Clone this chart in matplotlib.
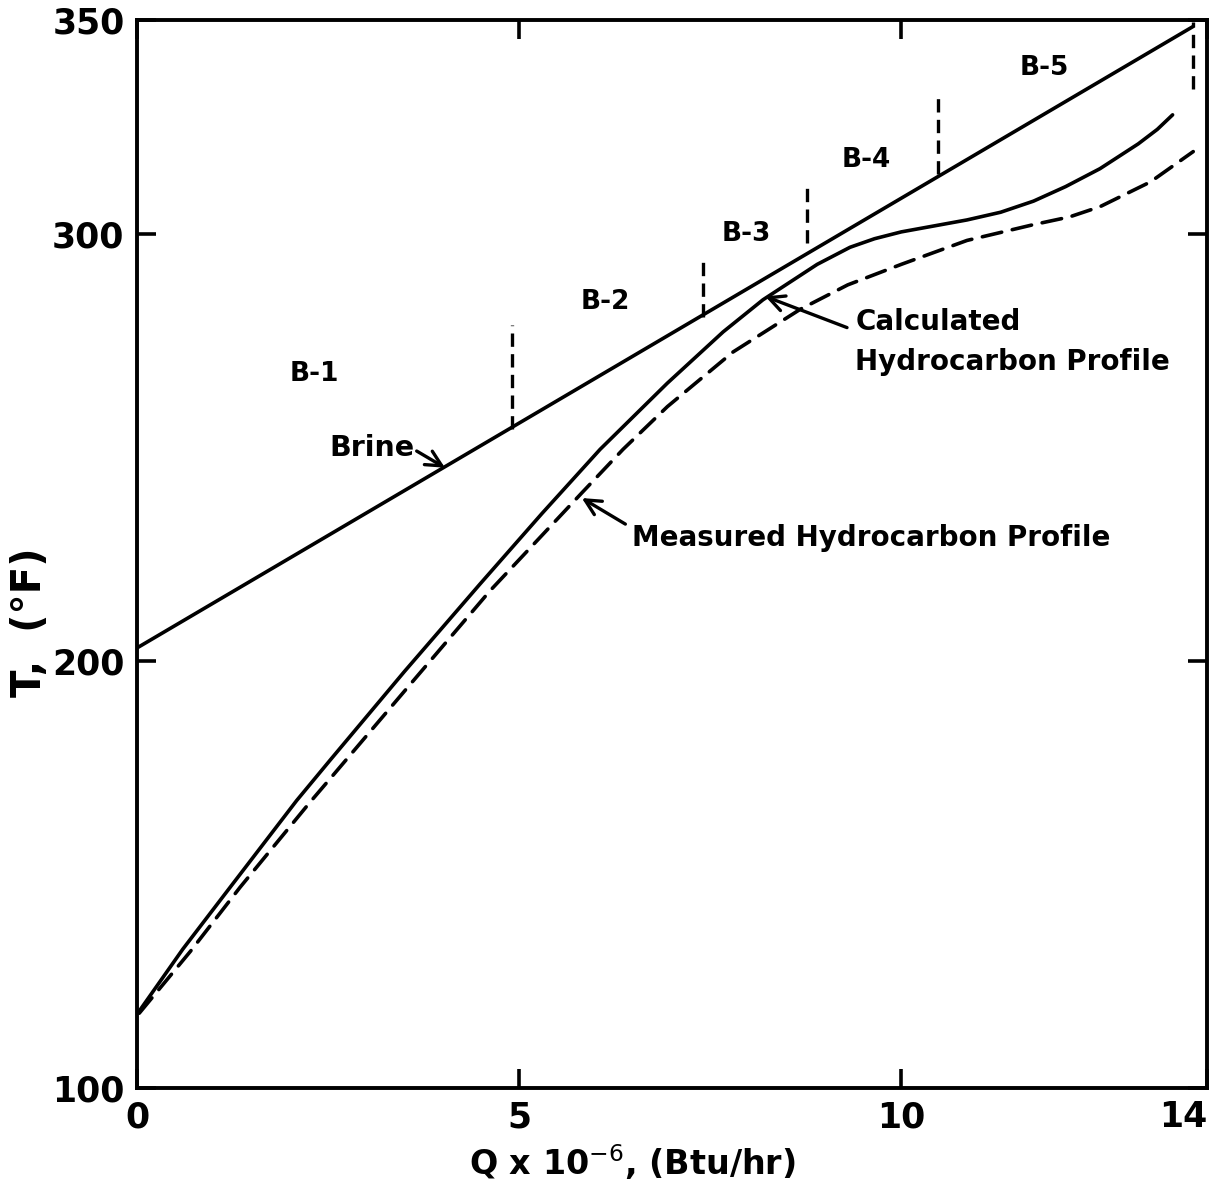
import matplotlib
matplotlib.use("Agg")
import matplotlib.pyplot as plt

# ---- data ----
brine_q = [0.0, 13.82]
brine_t = [203.0, 348.5]

calc_q = [0.03, 0.6, 1.22, 2.09, 2.53, 3.5, 4.49, 5.3, 6.06, 6.94, 7.67, 8.19,
          8.9, 9.33, 9.65, 10.0, 10.86, 11.3, 11.73, 12.15, 12.6, 13.1, 13.35, 13.55]
calc_t = [118.0, 132.5, 147.0, 167.3, 176.8, 197.5, 218.0, 234.5, 249.5, 265.0,
          277.0, 284.5, 292.8, 296.8, 298.8, 300.4, 303.2, 305.0, 307.6, 311.0,
          315.2, 321.0, 324.4, 327.8]

meas_q = [0.03, 0.7, 1.35, 2.26, 2.57, 3.6, 4.62, 5.82, 6.36, 6.94, 7.8, 8.68,
          9.3, 10.0, 10.86, 11.73, 12.2, 12.6, 13.26, 13.82]
meas_t = [117.5, 132.0, 147.0, 166.8, 173.3, 195.0, 216.4, 239.3, 249.5, 259.5,
          272.3, 282.3, 288.0, 292.8, 298.4, 302.1, 303.9, 306.3, 312.1, 319.2]

bound_q = [4.91, 7.40, 8.77, 10.48, 13.82]
bound_top = [278.7, 295.1, 311.9, 332.7, 349.5]
bound_bot = [254.2, 280.4, 297.7, 314.0, 333.9]

zone_labels = ["B-1", "B-2", "B-3", "B-4", "B-5"]
zone_q = [2.32, 6.13, 7.97, 9.54, 11.87]
zone_t = [267.1, 284.1, 299.8, 317.3, 338.8]

xticks = [0, 5, 10, 14]
xtick_labels = ["0", "5", "10", "14"]
yticks = [100, 200, 300, 350]
ytick_labels = ["100", "200", "300", "350"]

plt.rcParams['font.family'] = ['DejaVu Sans']

fig = plt.figure(figsize=(12.25, 11.84), dpi=100)
ax = fig.add_axes([0.1118, 0.0811, 0.9853 - 0.1118, 0.9831 - 0.0811])

ax.set_xlim(0, 14)
ax.set_ylim(100, 350)

lw = 2.6
ax.plot(brine_q, brine_t, color='black', lw=lw, solid_capstyle='round')
ax.plot(calc_q, calc_t, color='black', lw=lw, solid_capstyle='round',
        solid_joinstyle='round')
ax.plot(meas_q, meas_t, color='black', lw=lw, linestyle=(0, (5.5, 3)),
        dash_capstyle='round', dash_joinstyle='round')

for q, t0, t1 in zip(bound_q, bound_bot, bound_top):
    ax.plot([q, q], [t0, t1], color='black', lw=2.4, linestyle=(0, (4, 2.2)))

for lab, q, t in zip(zone_labels, zone_q, zone_t):
    ax.text(q, t, lab, ha='center', va='center', fontsize=19, fontweight='bold')

arrow = dict(arrowstyle='->', lw=2.4, color='black', mutation_scale=28,
             shrinkA=0, shrinkB=0)
ax.text(3.08, 249.8, "Brine", ha='center', va='center', fontsize=20.5,
        fontweight='bold')
ax.annotate("", xy=(4.03, 245.2), xytext=(3.66, 249.1), arrowprops=arrow)

ax.annotate("", xy=(8.22, 285.3), xytext=(9.29, 278.0), arrowprops=arrow)
ax.text(9.40, 279.3, "Calculated", ha='left', va='center', fontsize=20,
        fontweight='bold')
ax.text(9.40, 270.0, "Hydrocarbon Profile", ha='left', va='center',
        fontsize=20, fontweight='bold')

ax.annotate("", xy=(5.82, 238.1), xytext=(6.39, 232.0), arrowprops=arrow)
ax.text(6.48, 228.7, "Measured Hydrocarbon Profile", ha='left', va='center',
        fontsize=20, fontweight='bold')

# ticks
ax.set_xticks(xticks)
ax.set_xticklabels(xtick_labels)
ax.set_yticks(yticks)
ax.set_yticklabels(ytick_labels)
ax.tick_params(direction='in', length=14, width=2.6, top=True, right=True,
               labelsize=25, pad=9)
for lbl in ax.get_xticklabels() + ax.get_yticklabels():
    lbl.set_fontweight('bold')
xl = ax.get_xticklabels()
xl[-1].set_horizontalalignment('right')
for sp in ax.spines.values():
    sp.set_linewidth(2.8)

ax.set_xlabel("Q x 10$^{-6}$, (Btu/hr)", fontsize=24, fontweight='bold')
ax.xaxis.set_label_coords(0.463, -0.069)
ax.xaxis.label.set_verticalalignment('center')
ax.set_ylabel("T,  (°F)", fontsize=29, fontweight='bold')
ax.yaxis.set_label_coords(-0.1, 0.436)
ax.yaxis.label.set_verticalalignment('center')

fig.savefig("out.png", dpi=100)
